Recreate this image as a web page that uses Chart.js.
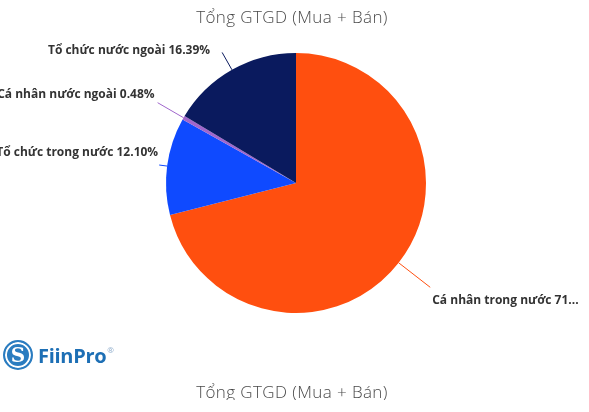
<!DOCTYPE html>
<html>
<head>
<meta charset="utf-8">
<script src="https://cdn.jsdelivr.net/npm/chart.js@4"></script>
<style>
  html, body { margin: 0; padding: 0; background: #fff; }
  #wrap { position: relative; width: 589px; height: 412px; overflow: hidden; }
  #chart { position: absolute; left: 0; top: 0; }
  .logo { position: absolute; left: 3px; top: 340px; height: 30px; display: flex; align-items: center; }
  .logo .badge {
    width: 26px; height: 26px; border-radius: 50%; background: #2a7cc0;
    border: 2px solid #2a7cc0; box-shadow: inset 0 0 0 2px #fff;
    color: #fff; font: bold 20px "DejaVu Serif", serif; text-align: center; line-height: 26px;
  }
  .logo .name { margin-left: 5px; font: bold 20px "Open Sans", sans-serif; color: #1d6fb5; letter-spacing: -0.3px; }
  .logo sup { font: 8px "Open Sans", sans-serif; color: #8aa9c9; position: relative; top: -6px; margin-left: 1px; }
  .title2 {
    position: absolute; left: 0; width: 584px; top: 380px; height: 20px; overflow: hidden;
    text-align: center; font: 300 17px "Open Sans", sans-serif; letter-spacing: 0.4px; color: #4a4a4a;
  }
</style>
</head>
<body>
<div id="wrap">
  <canvas id="chart" width="589" height="412"></canvas>
  <div class="logo"><div class="badge">S</div><span class="name">FiinPro</span><sup>®</sup></div>
  <div class="title2">Tổng GTGD (Mua + Bán)</div>
</div>
<script>
const chartTitle = "Tổng GTGD (Mua + Bán)"
const categories = ["Cá nhân trong nước", "Tổ chức trong nước", "Cá nhân nước ngoài", "Tổ chức nước ngoài"]
const shares = [71.03, 12.10, 0.48, 16.39]
const colors = ["#FF4F0F", "#0F4AFF", "#A066CC", "#0A1A5E"]

// leader line length past the arc edge, and text nudge from the line end
const leader = [
    { len: 40, dx: 2, dy: 13 },
    { len: 8, dx: -1, dy: -12 },
    { len: 30, dx: -3, dy: -8 },
    { len: 20, dx: -12, dy: -2 },
]

const labelPlugin = {
    id: "pieLabels",
    afterDraw(chart) {
        const ctx = chart.ctx
        const meta = chart.getDatasetMeta(0)

        ctx.save()
        ctx.font = "300 17px 'Open Sans', sans-serif"
        ctx.letterSpacing = "0.4px"
        ctx.fillStyle = "#4a4a4a"
        ctx.textAlign = "center"
        ctx.textBaseline = "middle"
        ctx.fillText(chartTitle, 292, 18)

        ctx.letterSpacing = "0px"
        ctx.font = "bold 12px 'Open Sans', sans-serif"
        ctx.textBaseline = "middle"

        meta.data.forEach((arc, i) => {
            const { x, y, startAngle, endAngle, outerRadius } = arc.getProps(["x", "y", "startAngle", "endAngle", "outerRadius"], true)
            const mid = (startAngle + endAngle) / 2
            const cos = Math.cos(mid), sin = Math.sin(mid)
            const x0 = x + cos * outerRadius, y0 = y + sin * outerRadius
            const r1 = outerRadius + leader[i].len
            const x1 = x + cos * r1, y1 = y + sin * r1

            ctx.strokeStyle = colors[i]
            ctx.lineWidth = 1
            ctx.beginPath()
            ctx.moveTo(x0, y0)
            ctx.lineTo(x1, y1)
            ctx.stroke()

            const right = cos >= 0
            const tx = x1 + leader[i].dx
            const ty = y1 + leader[i].dy
            let text = categories[i] + " " + shares[i].toFixed(2) + "%"
            if (right) {
                const avail = chart.width - 6 - tx
                if (ctx.measureText(text).width > avail) {
                    while (text.length > 1 && ctx.measureText(text + "...").width > avail) text = text.slice(0, -1)
                    text = text.replace(/[\s.]+$/, "") + "..."
                }
            }
            ctx.fillStyle = "#333333"
            ctx.textAlign = right ? "left" : "right"
            ctx.fillText(text, tx, ty)
        })
        ctx.restore()
    }
}

new Chart(document.getElementById("chart"), {
    type: "pie",
    data: {
        labels: categories,
        datasets: [{
            data: shares,
            backgroundColor: colors,
            borderWidth: 0,
        }]
    },
    options: {
        responsive: false,
        animation: false,
        layout: { padding: { left: 166, right: 163, top: 53, bottom: 99 } },
        plugins: {
            legend: { display: false },
            tooltip: { enabled: false },
            title: { display: false },
        }
    },
    plugins: [labelPlugin]
})
</script>
</body>
</html>
